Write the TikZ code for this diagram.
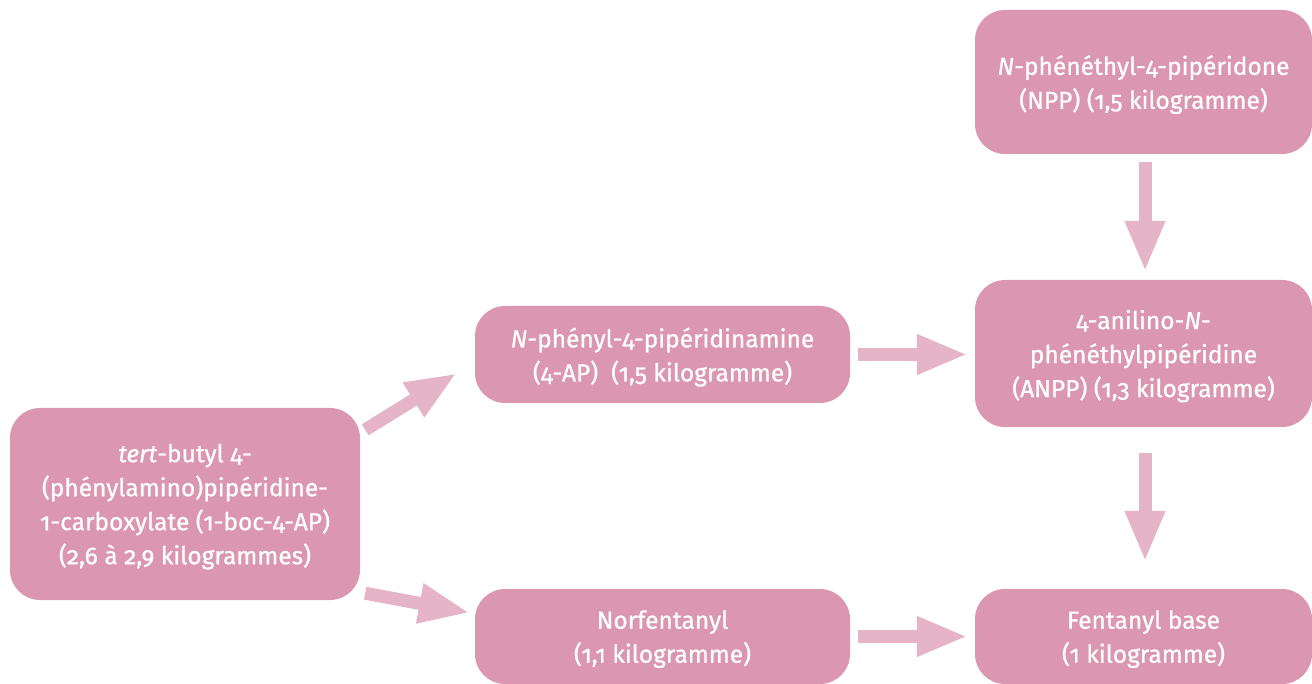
\documentclass[tikz,border=0pt]{standalone}
\usepackage{fontspec}
\setmainfont{Fira Sans}[Numbers=OldStyle, FakeBold=0.8]
\usetikzlibrary{arrows.meta,calc}
\definecolor{boxpink}{RGB}{219,151,176}
\definecolor{arrowpink}{RGB}{229,181,199}
\begin{document}
\begin{tikzpicture}[x=1pt,y=-1pt,
  stepbox/.style={fill=boxpink, rounded corners=30pt, text=white, align=center,
    inner sep=0pt, text depth=0pt, font=\fontsize{24.5}{34}\selectfont},
  flow/.style={draw=arrowpink, line width=13pt, -{Triangle[width=37pt,length=51pt]}}]
\useasboundingbox (0,0) rectangle (1312,684);
\node[stepbox, minimum width=337pt, minimum height=144pt] (npp) at (1143.5,82)
  {\textit{N}-phénéthyl-4-pipéridone\\(NPP) (1,5 kilogramme)};
\node[stepbox, minimum width=337pt, minimum height=147pt] (anpp) at (1143.5,353.5)
  {4-anilino-\textit{N}-\\phénéthylpipéridine\\(ANPP) (1,3 kilogramme)};
\node[stepbox, minimum width=337pt, minimum height=95pt] (fent) at (1143.5,636.5)
  {Fentanyl base\\(1 kilogramme)};
\node[stepbox, minimum width=375pt, minimum height=97pt] (ap) at (662.5,354.5)
  {\textit{N}-phényl-4-pipéridinamine\\(4-AP)\ \ (1,5 kilogramme)};
\node[stepbox, minimum width=375pt, minimum height=95pt] (norf) at (662.5,636.5)
  {Norfentanyl\\(1,1 kilogramme)};
\node[stepbox, minimum width=350pt, minimum height=192pt] (boc) at (185,504)
  {\textit{tert}-butyl 4-\\(phénylamino)pipéridine-\\1-carboxylate (1-boc-4-AP)\\(2,6 à 2,9 kilogrammes)};
\draw[flow] ($(npp.south)+(1.5,8)$) -- ($(anpp.north)+(1.5,-8)$);
\draw[flow] ($(anpp.south)+(1.5,26)$) -- ($(fent.north)+(1.5,-27)$);
\draw[flow] ($(ap.east)+(8,0)$) -- ($(ap.east -| anpp.west)+(-7,0)$);
\draw[flow] ($(norf.east)+(8,0)$) -- ($(norf.east -| fent.west)+(-7,0)$);
\draw[flow] ($(boc.north east)+(5,22)$) -- ($(ap.south west)+(-18,-30)$);
\draw[flow] ($(boc.south east)+(5,-7)$) -- ($(norf.north west)+(-5,24)$);
\end{tikzpicture}
\end{document}
